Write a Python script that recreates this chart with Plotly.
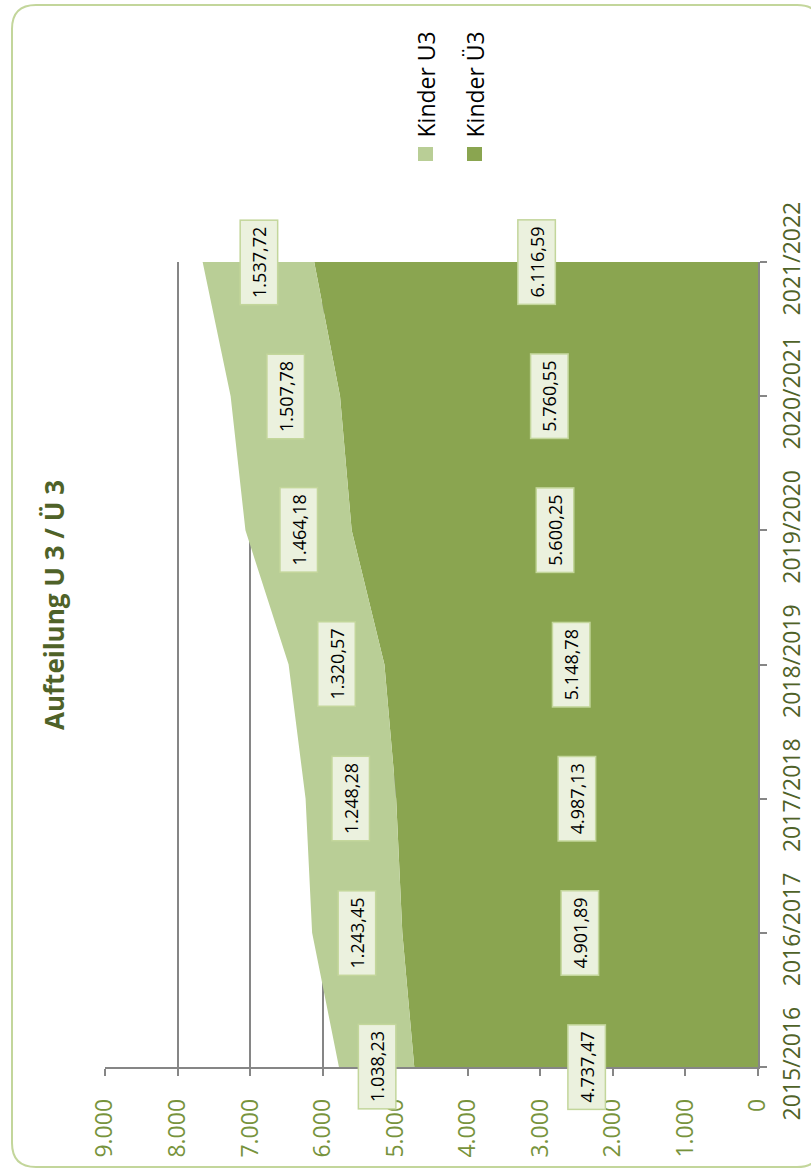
import plotly.graph_objects as go

# ---------------- data ----------------
categories = ["2015/2016", "2016/2017", "2017/2018", "2018/2019",
              "2019/2020", "2020/2021", "2021/2022"]
kinder_u3 = [1038.23, 1243.45, 1248.28, 1320.57, 1464.18, 1507.78, 1537.72]
kinder_ue3 = [4737.47, 4901.89, 4987.13, 5148.78, 5600.25, 5760.55, 6116.59]
value_ticks = [0, 1000, 2000, 3000, 4000, 5000, 6000, 7000, 8000, 9000]
value_tick_labels = ["0", "1.000", "2.000", "3.000", "4.000", "5.000",
                     "6.000", "7.000", "8.000", "9.000"]
series_names = ["Kinder U3", "Kinder Ü3"]
chart_title = "Aufteilung U 3 / Ü 3"

# ---------------- style ----------------
W, H = 811, 1169
LIGHT = "#B9CE96"
DARK = "#8AA550"
GRID = "#868686"
FONT = "Open Sans"
LABEL_BG = "#EBF1DE"
LABEL_BORDER = "#C3D69B"


def px(x):
    return x / W


def py(y):
    return 1 - y / H


def fmt_de(v):
    s = f"{v:,.2f}"
    return s.replace(",", "X").replace(".", ",").replace("X", ".")


fig = go.Figure()
fig.add_trace(go.Scatter(x=kinder_ue3, y=categories, name=series_names[1],
                         stackgroup="one", orientation="h", mode="none",
                         fillcolor=DARK))
fig.add_trace(go.Scatter(x=kinder_u3, y=categories, name=series_names[0],
                         stackgroup="one", orientation="h", mode="none",
                         fillcolor=LIGHT))

annotations = []
for cat, ue, u in zip(categories, kinder_ue3, kinder_u3):
    for xv, val in ((ue / 2, ue), (ue + u / 2, u)):
        annotations.append(dict(
            x=xv, y=cat, xref="x", yref="y", text=fmt_de(val),
            showarrow=False, textangle=-90,
            xanchor="center", yanchor="middle",
            font=dict(family=FONT, size=18, color="black"),
            bgcolor=LABEL_BG, bordercolor=LABEL_BORDER, borderwidth=1.5,
            borderpad=6))

# title
annotations.append(dict(
    x=px(54), y=py(605), xref="paper", yref="paper",
    text="<b>" + chart_title + "</b>", showarrow=False, textangle=-90,
    xanchor="center", yanchor="middle",
    font=dict(family=FONT, size=26, color="#4F6228")))

# legend (rotated)
shapes = []
legend_x = [425.5, 474.5]
legend_colors = [LIGHT, DARK]
for name, lx, col in zip(series_names, legend_x, legend_colors):
    shapes.append(dict(type="rect", xref="paper", yref="paper",
                       x0=px(lx - 7.5), x1=px(lx + 7.5),
                       y0=py(161), y1=py(147),
                       fillcolor=col, line=dict(width=0)))
    annotations.append(dict(
        x=px(lx), y=py(140), xref="paper", yref="paper", text=name,
        showarrow=False, textangle=-90, xanchor="center", yanchor="bottom",
        font=dict(family=FONT, size=23, color="black")))

# rounded outer border
x0, y0, x1, y1, r = 12, 5, 821, 1167, 24
path = (f"M {px(x0 + r)},{py(y0)} L {px(x1 - r)},{py(y0)} "
        f"Q {px(x1)},{py(y0)} {px(x1)},{py(y0 + r)} "
        f"L {px(x1)},{py(y1 - r)} Q {px(x1)},{py(y1)} {px(x1 - r)},{py(y1)} "
        f"L {px(x0 + r)},{py(y1)} Q {px(x0)},{py(y1)} {px(x0)},{py(y1 - r)} "
        f"L {px(x0)},{py(y0 + r)} Q {px(x0)},{py(y0)} {px(x0 + r)},{py(y0)} Z")
shapes.append(dict(type="path", xref="paper", yref="paper", path=path,
                   line=dict(color=LABEL_BORDER, width=2), layer="below"))

fig.update_layout(
    width=W, height=H,
    margin=dict(l=0, r=0, t=0, b=0, autoexpand=False),
    paper_bgcolor="white", plot_bgcolor="white",
    showlegend=False,
    annotations=annotations,
    shapes=shapes,
    xaxis=dict(
        domain=[px(105), px(758)], range=[9000, 0], automargin=False,
        tickmode="array", tickvals=value_ticks, ticktext=value_tick_labels,
        tickangle=-90, ticks="outside", ticklen=7, tickwidth=1.5,
        tickcolor=GRID, showline=True, linecolor=GRID, linewidth=1.5,
        showgrid=True, gridcolor=GRID, gridwidth=1.5, zeroline=False,
        tickfont=dict(family=FONT, size=23, color="#77933C"),
        ticklabelstandoff=14,
    ),
    yaxis=dict(
        domain=[py(1067), py(262)], side="right", type="category",
        range=[0, 6], automargin=False, tickangle=-90, ticks="outside",
        ticklen=7, tickwidth=1.5, tickcolor=GRID, showline=True,
        linecolor=GRID, linewidth=1.5, showgrid=False, zeroline=False,
        tickfont=dict(family=FONT, size=23, color="#4F6228"),
        ticklabelstandoff=6,
    ),
)

fig.write_html("out.html", config={"displayModeBar": False},
               post_script="document.body.style.margin='0';")
